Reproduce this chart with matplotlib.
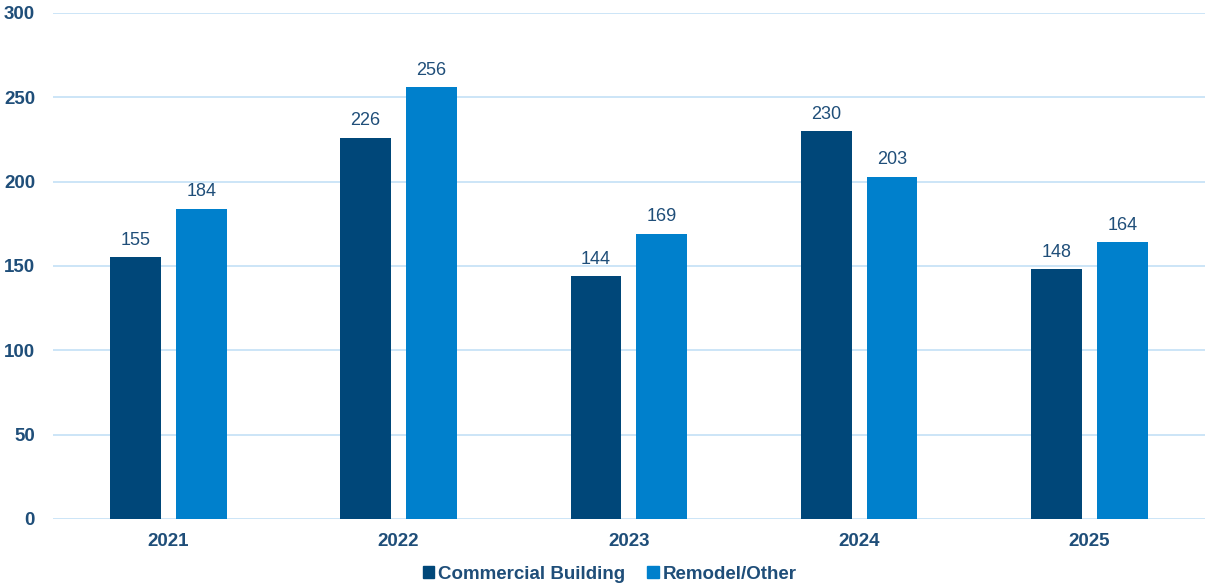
import numpy as np
import matplotlib.pyplot as plt
from matplotlib.patches import Patch

years = ["2021", "2022", "2023", "2024", "2025"]
commercial = [155, 226, 144, 230, 148]
remodel = [184, 256, 169, 203, 164]

DARK = "#004779"
LIGHT = "#0080CC"
TEXT = "#1F4E79"
GRID = "#C8E3F7"

plt.rcParams["font.family"] = ["Liberation Sans", "DejaVu Sans"]

fig = plt.figure(figsize=(12.07, 5.87), dpi=100)
ax = fig.add_axes([0.044, 0.116, 0.954, 0.862])

x = np.arange(len(years))
w = 0.22
off = 0.143
b1 = ax.bar(x - off, commercial, w, color=DARK, zorder=3)
b2 = ax.bar(x + off, remodel, w, color=LIGHT, zorder=3)

for bars, vals in ((b1, commercial), (b2, remodel)):
    for rect, v in zip(bars, vals):
        ax.text(rect.get_x() + rect.get_width() / 2, v + 5, str(v),
                ha="center", va="bottom", fontsize=13, color=TEXT)

ax.set_xlim(-0.5, len(years) - 0.5)
ax.set_ylim(0, 300)
ax.set_yticks(range(0, 301, 50))
ax.set_xticks(x)
ax.set_xticklabels(years)
ax.grid(axis="y", color=GRID, linewidth=1.3, zorder=0)
for s in ax.spines.values():
    s.set_visible(False)
ax.tick_params(length=0, labelsize=13.5, labelcolor=TEXT)
ax.tick_params(axis="y", pad=13)
ax.tick_params(axis="x", pad=10)
for lab in ax.get_xticklabels() + ax.get_yticklabels():
    lab.set_fontweight("bold")

handles = [Patch(color=DARK, label="Commercial Building"),
           Patch(color=LIGHT, label="Remodel/Other")]
leg = fig.legend(handles=handles, loc="lower center", ncol=2, frameon=False,
                 bbox_to_anchor=(0.505, -0.022), handlelength=0.6,
                 handleheight=0.6, handletextpad=0.2, columnspacing=1.2,
                 prop={"size": 13.5, "weight": "bold"})
for t in leg.get_texts():
    t.set_color(TEXT)

fig.savefig("out.png", dpi=100)
